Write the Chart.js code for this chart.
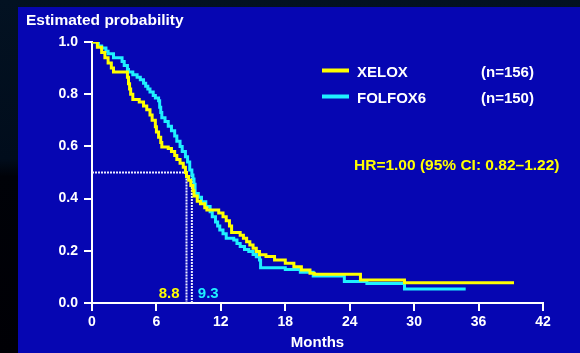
<!DOCTYPE html>
<html>
<head>
<meta charset="utf-8">
<script src="https://cdn.jsdelivr.net/npm/chart.js@4/dist/chart.umd.min.js"></script>
<style>
  html, body { margin: 0; padding: 0; background: #010a18; }
  #wrap { width: 580px; height: 353px; position: relative; }
</style>
</head>
<body>
<div id="wrap"><canvas id="km" width="580" height="353"></canvas></div>
<script>
// Kaplan-Meier step data: time (months) of each drop and survival after it
const xeloxTime = [0, 0.5, 0.9, 1.2, 1.5, 1.8, 2.0, 3.3, 3.4, 3.5, 3.6, 3.8, 4.4, 4.8, 5.1, 5.4, 5.6, 5.9, 6.0, 6.2, 6.4, 6.5, 7.1, 7.4, 7.7, 7.9, 8.2, 8.5, 8.7, 8.8, 9.0, 9.2, 9.4, 9.5, 9.8, 10.1, 10.5, 10.7, 11.8, 12.2, 12.5, 12.8, 13.0, 13.8, 14.1, 14.4, 14.7, 15.0, 15.3, 15.6, 16.2, 17.0, 18.0, 18.8, 19.5, 20.3, 20.7, 25.0, 29.1, 39.3];
const xeloxSurv = [1.0, 0.98, 0.96, 0.94, 0.92, 0.90, 0.885, 0.865, 0.84, 0.82, 0.80, 0.78, 0.77, 0.755, 0.74, 0.72, 0.70, 0.675, 0.655, 0.635, 0.615, 0.598, 0.592, 0.58, 0.565, 0.55, 0.535, 0.52, 0.50, 0.485, 0.47, 0.45, 0.43, 0.41, 0.39, 0.38, 0.365, 0.356, 0.345, 0.33, 0.315, 0.295, 0.27, 0.26, 0.248, 0.235, 0.222, 0.21, 0.197, 0.185, 0.178, 0.165, 0.152, 0.139, 0.126, 0.114, 0.11, 0.088, 0.078, 0.078];

const folfoxTime = [0, 0.6, 0.9, 1.3, 1.5, 2.0, 2.8, 3.0, 3.3, 3.4, 3.8, 4.2, 4.5, 4.8, 5.0, 5.2, 5.4, 5.7, 5.9, 6.2, 6.3, 6.4, 6.5, 6.8, 7.1, 7.4, 7.7, 7.9, 8.2, 8.4, 8.7, 8.9, 9.1, 9.3, 9.4, 9.5, 9.6, 9.9, 10.2, 10.6, 11.0, 11.2, 11.5, 11.7, 11.9, 12.2, 12.5, 13.2, 13.5, 13.8, 14.2, 14.6, 15.0, 15.3, 15.6, 15.7, 18.0, 19.4, 20.6, 23.5, 25.6, 29.1, 34.8];
const folfoxSurv = [1.0, 0.985, 0.977, 0.965, 0.955, 0.94, 0.925, 0.91, 0.895, 0.885, 0.875, 0.865, 0.855, 0.842, 0.83, 0.82, 0.808, 0.795, 0.785, 0.775, 0.75, 0.73, 0.71, 0.695, 0.677, 0.66, 0.64, 0.62, 0.60, 0.58, 0.56, 0.54, 0.51, 0.49, 0.475, 0.455, 0.42, 0.405, 0.388, 0.37, 0.35, 0.33, 0.31, 0.295, 0.28, 0.265, 0.248, 0.241, 0.228, 0.216, 0.205, 0.197, 0.186, 0.177, 0.165, 0.135, 0.128, 0.118, 0.103, 0.082, 0.075, 0.054, 0.054];

// Median survival times (months) and the 0.5 level they are read at
const medianLevel = 0.5;
const medianXelox = 8.8;
const medianFolfox = 9.3;

const xTicks = [0, 6, 12, 18, 24, 30, 36, 42];
const yTicks = [0.0, 0.2, 0.4, 0.6, 0.8, 1.0];

const seriesNames = ['XELOX', 'FOLFOX6'];
const seriesN = ['(n=156)', '(n=150)'];
const hrText = 'HR=1.00 (95% CI: 0.82\u20131.22)';

const YELLOW = '#ffff00';
const CYAN = '#1ff0ff';
const PANEL = '#0606b2';
const FONT = '"Liberation Sans", Arial, Helvetica, sans-serif';

const toPoints = (t, s) => t.map((v, i) => ({ x: v, y: s[i] }));

const guideStyle = {
  borderColor: '#ececff', borderWidth: 2, borderDash: [2, 1],
  pointRadius: 0, fill: false, stepped: false, tension: 0, order: 3
};

// Background panel, heading, legend and annotations
const decor = {
  id: 'decor',
  beforeDraw(chart) {
    const c = chart.ctx;
    c.save();
    const g = c.createLinearGradient(0, 0, 0, 353);
    g.addColorStop(0, '#031222');
    g.addColorStop(0.45, '#010d1c');
    g.addColorStop(0.5, '#000208');
    g.addColorStop(1, '#000005');
    c.fillStyle = g;
    c.fillRect(0, 0, 580, 353);
    c.fillStyle = PANEL;
    c.fillRect(18, 7, 562, 346);
    c.restore();
  },
  afterDraw(chart) {
    const c = chart.ctx;
    const xs = chart.scales.x;
    c.save();
    c.textBaseline = 'alphabetic';
    c.font = 'bold 15.5px ' + FONT;
    c.fillStyle = '#ffffff';
    c.textAlign = 'left';
    c.fillText('Estimated probability', 26, 25);

    // legend
    const legendColors = [YELLOW, CYAN];
    const rows = [70.5, 96.5];
    seriesNames.forEach((name, i) => {
      c.fillStyle = legendColors[i];
      c.fillRect(322, rows[i] - 2, 27, 4);
      c.fillStyle = '#ffffff';
      c.font = 'bold 15px ' + FONT;
      c.fillText(name, 357, rows[i] + 6);
      c.fillText(seriesN[i], 481, rows[i] + 6);
    });

    c.fillStyle = YELLOW;
    c.font = 'bold 15.5px ' + FONT;
    c.fillText(hrText, 354, 169.5);

    // median values
    c.font = 'bold 15px ' + FONT;
    c.textAlign = 'right';
    c.fillStyle = YELLOW;
    c.fillText(medianXelox.toFixed(1), xs.getPixelForValue(medianXelox) - 7, 298);
    c.textAlign = 'left';
    c.fillStyle = CYAN;
    c.fillText(medianFolfox.toFixed(1), xs.getPixelForValue(medianFolfox) + 6, 298);
    c.restore();
  }
};

const tickFont = { family: FONT, size: 14, weight: 'bold' };

new Chart(document.getElementById('km'), {
  type: 'line',
  data: {
    datasets: [
      {
        label: seriesNames[0], data: toPoints(xeloxTime, xeloxSurv),
        borderColor: YELLOW, borderWidth: 3, pointRadius: 0, stepped: 'before', order: 0
      },
      {
        label: seriesNames[1], data: toPoints(folfoxTime, folfoxSurv),
        borderColor: CYAN, borderWidth: 3, pointRadius: 0, stepped: 'before', order: 1
      },
      Object.assign({ label: 'median', data: [{ x: 0, y: medianLevel }, { x: medianXelox, y: medianLevel }] }, guideStyle),
      Object.assign({ label: 'medianX', data: [{ x: medianXelox, y: medianLevel }, { x: medianXelox, y: 0 }] }, guideStyle),
      Object.assign({ label: 'medianF', data: [{ x: medianFolfox, y: 0.49 }, { x: medianFolfox, y: 0 }] }, guideStyle)
    ]
  },
  options: {
    responsive: false,
    animation: false,
    events: [],
    layout: { padding: { top: 42, right: 37, left: 0, bottom: 0 } },
    plugins: { legend: { display: false }, tooltip: { enabled: false } },
    scales: {
      x: {
        type: 'linear', min: 0, max: 42,
        afterBuildTicks(s) { s.ticks = xTicks.map(v => ({ value: v })); },
        afterFit(s) { s.height = 50; },
        ticks: { color: '#ffffff', font: tickFont, padding: 3, maxRotation: 0 },
        grid: { drawOnChartArea: false, drawTicks: true, tickLength: 8, color: '#ffffff', lineWidth: 2 },
        border: { display: true, color: '#ffffff', width: 2 },
        title: { display: true, text: 'Months', color: '#ffffff', font: { family: FONT, size: 15, weight: 'bold' }, padding: { top: 0, bottom: 1 } }
      },
      y: {
        type: 'linear', min: 0, max: 1,
        afterBuildTicks(s) { s.ticks = yTicks.map(v => ({ value: v })); },
        afterFit(s) { s.width = 92; },
        ticks: { color: '#ffffff', font: tickFont, padding: 6, callback: v => Number(v).toFixed(1) },
        grid: { drawOnChartArea: false, drawTicks: true, tickLength: 8, color: '#ffffff', lineWidth: 2 },
        border: { display: true, color: '#ffffff', width: 2 }
      }
    }
  },
  plugins: [decor]
});
</script>
</body>
</html>
